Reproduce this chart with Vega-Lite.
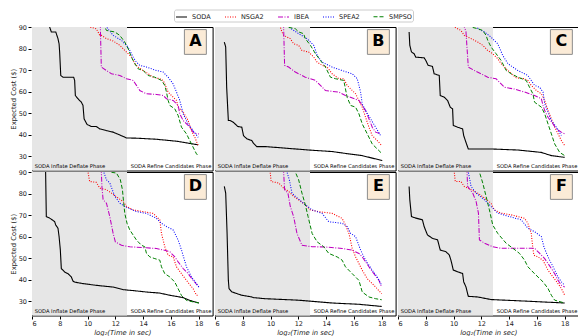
{
"$schema": "https://vega.github.io/schema/vega-lite/v6.json",
"padding": {"left": 10, "top": 9, "right": 0, "bottom": 0},
"background": "white",
"config": {
 "font": "DejaVu Sans",
 "view": {"stroke": "black", "strokeWidth": 1},
 "header": {"labels": false, "title": null, "labelFontSize": 0, "labelPadding": 0, "titlePadding": 0},
 "headerFacet": {"labels": false, "title": null},
 "axis": {"grid": false, "domain": false, "tickColor": "black", "tickSize": 3, "tickCount": 12, "labelFontSize": 6.5, "labelColor": "#222", "labelOverlap": false, "titleFontSize": 6.8, "titleFontWeight": "normal", "titleColor": "#222", "labelPadding": 1.5, "titlePadding": 2}
},
"data": {"values": [
{"p":"A","L":"A"},{"p":"B","L":"B"},{"p":"C","L":"C"},{"p":"D","L":"D"},{"p":"E","L":"E"},{"p":"F","L":"F"},
{"p":"A","s":"SODA","x":7.25,"y":92},{"p":"A","s":"SODA","x":7.27,"y":90},{"p":"A","s":"SODA","x":7.39,"y":87.7},{"p":"A","s":"SODA","x":7.71,"y":87.7},{"p":"A","s":"SODA","x":7.87,"y":84.6},{"p":"A","s":"SODA","x":7.95,"y":82.2},{"p":"A","s":"SODA","x":7.99,"y":78.4},{"p":"A","s":"SODA","x":8.07,"y":67.5},{"p":"A","s":"SODA","x":8.23,"y":66.7},{"p":"A","s":"SODA","x":9.0,"y":66.7},{"p":"A","s":"SODA","x":9.07,"y":65.2},{"p":"A","s":"SODA","x":9.12,"y":58.2},{"p":"A","s":"SODA","x":9.31,"y":56.7},{"p":"A","s":"SODA","x":9.55,"y":55.1},{"p":"A","s":"SODA","x":9.67,"y":53.6},{"p":"A","s":"SODA","x":9.75,"y":47.4},{"p":"A","s":"SODA","x":9.96,"y":44.8},{"p":"A","s":"SODA","x":10.27,"y":43.8},{"p":"A","s":"SODA","x":10.63,"y":43.8},{"p":"A","s":"SODA","x":10.88,"y":42.7},{"p":"A","s":"SODA","x":11.36,"y":41.9},{"p":"A","s":"SODA","x":11.84,"y":41.2},{"p":"A","s":"SODA","x":12.32,"y":39.9},{"p":"A","s":"SODA","x":12.8,"y":38.5},{"p":"A","s":"SODA","x":13.52,"y":38.4},{"p":"A","s":"SODA","x":14.96,"y":37.9},{"p":"A","s":"SODA","x":16.4,"y":37.0},{"p":"A","s":"SODA","x":16.88,"y":36.5},{"p":"A","s":"SODA","x":17.96,"y":35.3},
{"p":"A","s":"NSGA2","x":10.15,"y":92},{"p":"A","s":"NSGA2","x":10.15,"y":90},{"p":"A","s":"NSGA2","x":10.63,"y":89.2},{"p":"A","s":"NSGA2","x":10.88,"y":86.1},{"p":"A","s":"NSGA2","x":11.0,"y":86.1},{"p":"A","s":"NSGA2","x":11.36,"y":84.6},{"p":"A","s":"NSGA2","x":11.84,"y":83.5},{"p":"A","s":"NSGA2","x":12.32,"y":81.5},{"p":"A","s":"NSGA2","x":12.68,"y":79.1},{"p":"A","s":"NSGA2","x":12.92,"y":77.6},{"p":"A","s":"NSGA2","x":13.16,"y":76.0},{"p":"A","s":"NSGA2","x":13.28,"y":74.5},{"p":"A","s":"NSGA2","x":13.4,"y":73.0},{"p":"A","s":"NSGA2","x":13.64,"y":71.4},{"p":"A","s":"NSGA2","x":14.0,"y":69.8},{"p":"A","s":"NSGA2","x":14.36,"y":68.3},{"p":"A","s":"NSGA2","x":14.72,"y":66.7},{"p":"A","s":"NSGA2","x":15.2,"y":66.0},{"p":"A","s":"NSGA2","x":15.44,"y":65.2},{"p":"A","s":"NSGA2","x":15.56,"y":63.6},{"p":"A","s":"NSGA2","x":15.8,"y":59.8},{"p":"A","s":"NSGA2","x":16.04,"y":58.2},{"p":"A","s":"NSGA2","x":16.4,"y":55.9},{"p":"A","s":"NSGA2","x":16.52,"y":52.8},{"p":"A","s":"NSGA2","x":16.88,"y":50.5},{"p":"A","s":"NSGA2","x":17.24,"y":46.6},{"p":"A","s":"NSGA2","x":17.48,"y":41.9},{"p":"A","s":"NSGA2","x":17.72,"y":38.8},{"p":"A","s":"NSGA2","x":17.96,"y":35.0},
{"p":"A","s":"IBEA","x":10.92,"y":92},{"p":"A","s":"IBEA","x":10.92,"y":90},{"p":"A","s":"IBEA","x":10.99,"y":71.4},{"p":"A","s":"IBEA","x":11.36,"y":69.8},{"p":"A","s":"IBEA","x":11.72,"y":68.3},{"p":"A","s":"IBEA","x":12.32,"y":67.5},{"p":"A","s":"IBEA","x":12.8,"y":66.0},{"p":"A","s":"IBEA","x":13.28,"y":65.2},{"p":"A","s":"IBEA","x":13.52,"y":62.9},{"p":"A","s":"IBEA","x":13.76,"y":60.5},{"p":"A","s":"IBEA","x":14.24,"y":59.0},{"p":"A","s":"IBEA","x":14.96,"y":58.7},{"p":"A","s":"IBEA","x":15.44,"y":58.2},{"p":"A","s":"IBEA","x":15.68,"y":56.7},{"p":"A","s":"IBEA","x":16.16,"y":55.9},{"p":"A","s":"IBEA","x":16.52,"y":53.6},{"p":"A","s":"IBEA","x":16.64,"y":49.7},{"p":"A","s":"IBEA","x":16.88,"y":46.6},{"p":"A","s":"IBEA","x":17.36,"y":43.5},{"p":"A","s":"IBEA","x":17.6,"y":41.2},{"p":"A","s":"IBEA","x":17.84,"y":40.4},{"p":"A","s":"IBEA","x":18.01,"y":40.4},
{"p":"A","s":"SPEA2","x":11.36,"y":92},{"p":"A","s":"SPEA2","x":11.36,"y":90},{"p":"A","s":"SPEA2","x":11.84,"y":86.1},{"p":"A","s":"SPEA2","x":12.44,"y":83.8},{"p":"A","s":"SPEA2","x":12.92,"y":80.7},{"p":"A","s":"SPEA2","x":13.28,"y":76.0},{"p":"A","s":"SPEA2","x":13.52,"y":73.7},{"p":"A","s":"SPEA2","x":13.76,"y":72.2},{"p":"A","s":"SPEA2","x":14.24,"y":71.4},{"p":"A","s":"SPEA2","x":14.96,"y":69.8},{"p":"A","s":"SPEA2","x":15.44,"y":69.1},{"p":"A","s":"SPEA2","x":15.8,"y":66.7},{"p":"A","s":"SPEA2","x":16.16,"y":63.6},{"p":"A","s":"SPEA2","x":16.4,"y":59.8},{"p":"A","s":"SPEA2","x":16.64,"y":55.9},{"p":"A","s":"SPEA2","x":16.88,"y":49.7},{"p":"A","s":"SPEA2","x":17.24,"y":45.0},{"p":"A","s":"SPEA2","x":17.6,"y":41.9},{"p":"A","s":"SPEA2","x":17.96,"y":38.8},
{"p":"A","s":"SMPSO","x":11.24,"y":92},{"p":"A","s":"SMPSO","x":11.24,"y":90},{"p":"A","s":"SMPSO","x":11.36,"y":88.4},{"p":"A","s":"SMPSO","x":11.96,"y":87.7},{"p":"A","s":"SMPSO","x":12.32,"y":86.1},{"p":"A","s":"SMPSO","x":12.68,"y":83.0},{"p":"A","s":"SMPSO","x":12.92,"y":79.9},{"p":"A","s":"SMPSO","x":13.16,"y":76.0},{"p":"A","s":"SMPSO","x":13.4,"y":73.0},{"p":"A","s":"SMPSO","x":13.64,"y":70.6},{"p":"A","s":"SMPSO","x":14.0,"y":69.8},{"p":"A","s":"SMPSO","x":14.36,"y":67.5},{"p":"A","s":"SMPSO","x":14.84,"y":66.7},{"p":"A","s":"SMPSO","x":15.32,"y":65.2},{"p":"A","s":"SMPSO","x":15.56,"y":62.9},{"p":"A","s":"SMPSO","x":15.68,"y":59.8},{"p":"A","s":"SMPSO","x":15.8,"y":55.9},{"p":"A","s":"SMPSO","x":15.92,"y":53.6},{"p":"A","s":"SMPSO","x":16.28,"y":52.0},{"p":"A","s":"SMPSO","x":16.52,"y":48.9},{"p":"A","s":"SMPSO","x":16.76,"y":43.5},{"p":"A","s":"SMPSO","x":17.12,"y":40.4},{"p":"A","s":"SMPSO","x":17.48,"y":35.7},{"p":"A","s":"SMPSO","x":17.84,"y":31.1},{"p":"A","s":"SMPSO","x":17.96,"y":30.3},
{"p":"B","s":"SODA","x":6.67,"y":83.0},{"p":"B","s":"SODA","x":6.77,"y":80.7},{"p":"B","s":"SODA","x":6.84,"y":62.0},{"p":"B","s":"SODA","x":6.96,"y":46.6},{"p":"B","s":"SODA","x":7.08,"y":46.6},{"p":"B","s":"SODA","x":7.32,"y":45.8},{"p":"B","s":"SODA","x":7.64,"y":43.8},{"p":"B","s":"SODA","x":7.93,"y":43.5},{"p":"B","s":"SODA","x":8.05,"y":39.6},{"p":"B","s":"SODA","x":8.29,"y":38.1},{"p":"B","s":"SODA","x":8.65,"y":37.3},{"p":"B","s":"SODA","x":8.77,"y":36.0},{"p":"B","s":"SODA","x":9.01,"y":34.5},{"p":"B","s":"SODA","x":9.61,"y":34.5},{"p":"B","s":"SODA","x":10.82,"y":33.9},{"p":"B","s":"SODA","x":12.75,"y":32.9},{"p":"B","s":"SODA","x":14.43,"y":32.2},{"p":"B","s":"SODA","x":15.64,"y":31.1},{"p":"B","s":"SODA","x":16.6,"y":30.3},{"p":"B","s":"SODA","x":18.04,"y":28.0},
{"p":"B","s":"NSGA2","x":10.7,"y":92},{"p":"B","s":"NSGA2","x":10.7,"y":90},{"p":"B","s":"NSGA2","x":10.82,"y":87.7},{"p":"B","s":"NSGA2","x":10.94,"y":86.1},{"p":"B","s":"NSGA2","x":11.42,"y":84.6},{"p":"B","s":"NSGA2","x":11.66,"y":82.2},{"p":"B","s":"NSGA2","x":12.02,"y":81.5},{"p":"B","s":"NSGA2","x":12.26,"y":79.1},{"p":"B","s":"NSGA2","x":12.74,"y":78.4},{"p":"B","s":"NSGA2","x":13.11,"y":76.0},{"p":"B","s":"NSGA2","x":13.35,"y":73.7},{"p":"B","s":"NSGA2","x":13.71,"y":72.2},{"p":"B","s":"NSGA2","x":14.07,"y":71.4},{"p":"B","s":"NSGA2","x":14.43,"y":68.3},{"p":"B","s":"NSGA2","x":14.91,"y":66.0},{"p":"B","s":"NSGA2","x":15.27,"y":66.0},{"p":"B","s":"NSGA2","x":15.51,"y":62.9},{"p":"B","s":"NSGA2","x":15.76,"y":61.3},{"p":"B","s":"NSGA2","x":16.12,"y":59.0},{"p":"B","s":"NSGA2","x":16.36,"y":55.9},{"p":"B","s":"NSGA2","x":16.6,"y":52.8},{"p":"B","s":"NSGA2","x":16.84,"y":48.1},{"p":"B","s":"NSGA2","x":17.08,"y":43.5},{"p":"B","s":"NSGA2","x":17.32,"y":39.6},{"p":"B","s":"NSGA2","x":17.68,"y":37.3},{"p":"B","s":"NSGA2","x":18.0,"y":35.0},
{"p":"B","s":"IBEA","x":10.94,"y":92},{"p":"B","s":"IBEA","x":10.94,"y":90},{"p":"B","s":"IBEA","x":11.01,"y":72.2},{"p":"B","s":"IBEA","x":11.3,"y":71.4},{"p":"B","s":"IBEA","x":11.78,"y":69.1},{"p":"B","s":"IBEA","x":12.5,"y":66.7},{"p":"B","s":"IBEA","x":13.23,"y":65.2},{"p":"B","s":"IBEA","x":13.59,"y":62.9},{"p":"B","s":"IBEA","x":13.95,"y":60.5},{"p":"B","s":"IBEA","x":14.91,"y":59.8},{"p":"B","s":"IBEA","x":15.39,"y":58.2},{"p":"B","s":"IBEA","x":16.36,"y":55.9},{"p":"B","s":"IBEA","x":16.6,"y":53.6},{"p":"B","s":"IBEA","x":16.84,"y":51.2},{"p":"B","s":"IBEA","x":17.08,"y":47.4},{"p":"B","s":"IBEA","x":17.32,"y":43.5},{"p":"B","s":"IBEA","x":17.56,"y":41.2},{"p":"B","s":"IBEA","x":17.92,"y":40.4},
{"p":"B","s":"SPEA2","x":11.3,"y":92},{"p":"B","s":"SPEA2","x":11.3,"y":90},{"p":"B","s":"SPEA2","x":12.02,"y":86.9},{"p":"B","s":"SPEA2","x":12.62,"y":84.6},{"p":"B","s":"SPEA2","x":13.11,"y":81.5},{"p":"B","s":"SPEA2","x":13.35,"y":76.8},{"p":"B","s":"SPEA2","x":13.71,"y":73.7},{"p":"B","s":"SPEA2","x":14.43,"y":71.4},{"p":"B","s":"SPEA2","x":15.15,"y":69.8},{"p":"B","s":"SPEA2","x":15.88,"y":68.3},{"p":"B","s":"SPEA2","x":16.24,"y":66.0},{"p":"B","s":"SPEA2","x":16.48,"y":59.8},{"p":"B","s":"SPEA2","x":16.6,"y":54.3},{"p":"B","s":"SPEA2","x":16.84,"y":51.2},{"p":"B","s":"SPEA2","x":17.2,"y":47.4},{"p":"B","s":"SPEA2","x":17.56,"y":43.5},{"p":"B","s":"SPEA2","x":17.92,"y":39.6},
{"p":"B","s":"SMPSO","x":11.18,"y":92},{"p":"B","s":"SMPSO","x":11.18,"y":90},{"p":"B","s":"SMPSO","x":11.78,"y":89.2},{"p":"B","s":"SMPSO","x":12.02,"y":87.7},{"p":"B","s":"SMPSO","x":12.38,"y":86.9},{"p":"B","s":"SMPSO","x":12.5,"y":84.6},{"p":"B","s":"SMPSO","x":12.87,"y":81.5},{"p":"B","s":"SMPSO","x":13.23,"y":77.6},{"p":"B","s":"SMPSO","x":13.59,"y":74.5},{"p":"B","s":"SMPSO","x":13.95,"y":71.4},{"p":"B","s":"SMPSO","x":14.31,"y":66.7},{"p":"B","s":"SMPSO","x":14.67,"y":66.0},{"p":"B","s":"SMPSO","x":15.27,"y":65.2},{"p":"B","s":"SMPSO","x":15.51,"y":57.4},{"p":"B","s":"SMPSO","x":15.76,"y":53.6},{"p":"B","s":"SMPSO","x":16.12,"y":52.8},{"p":"B","s":"SMPSO","x":16.36,"y":49.7},{"p":"B","s":"SMPSO","x":16.6,"y":45.0},{"p":"B","s":"SMPSO","x":16.96,"y":40.4},{"p":"B","s":"SMPSO","x":17.32,"y":35.7},{"p":"B","s":"SMPSO","x":17.68,"y":33.4},{"p":"B","s":"SMPSO","x":18.04,"y":31.1},
{"p":"C","s":"SODA","x":6.8,"y":87.7},{"p":"C","s":"SODA","x":6.85,"y":81.5},{"p":"C","s":"SODA","x":6.97,"y":78.4},{"p":"C","s":"SODA","x":7.16,"y":77.6},{"p":"C","s":"SODA","x":7.28,"y":76.0},{"p":"C","s":"SODA","x":7.88,"y":75.7},{"p":"C","s":"SODA","x":8.0,"y":74.5},{"p":"C","s":"SODA","x":8.17,"y":72.2},{"p":"C","s":"SODA","x":8.48,"y":71.7},{"p":"C","s":"SODA","x":8.6,"y":68.3},{"p":"C","s":"SODA","x":8.97,"y":67.5},{"p":"C","s":"SODA","x":9.04,"y":58.2},{"p":"C","s":"SODA","x":9.33,"y":57.4},{"p":"C","s":"SODA","x":9.57,"y":55.9},{"p":"C","s":"SODA","x":9.76,"y":52.8},{"p":"C","s":"SODA","x":9.93,"y":52.0},{"p":"C","s":"SODA","x":9.98,"y":44.3},{"p":"C","s":"SODA","x":10.29,"y":43.5},{"p":"C","s":"SODA","x":10.65,"y":42.7},{"p":"C","s":"SODA","x":10.73,"y":39.6},{"p":"C","s":"SODA","x":10.89,"y":36.5},{"p":"C","s":"SODA","x":11.06,"y":33.4},{"p":"C","s":"SODA","x":12.7,"y":33.4},{"p":"C","s":"SODA","x":14.63,"y":32.9},{"p":"C","s":"SODA","x":16.31,"y":31.8},{"p":"C","s":"SODA","x":17.04,"y":30.3},{"p":"C","s":"SODA","x":18.0,"y":29.5},
{"p":"C","s":"NSGA2","x":10.05,"y":92},{"p":"C","s":"NSGA2","x":10.05,"y":90},{"p":"C","s":"NSGA2","x":10.29,"y":89.2},{"p":"C","s":"NSGA2","x":10.53,"y":88.4},{"p":"C","s":"NSGA2","x":10.77,"y":86.1},{"p":"C","s":"NSGA2","x":11.26,"y":84.6},{"p":"C","s":"NSGA2","x":11.74,"y":83.0},{"p":"C","s":"NSGA2","x":12.1,"y":81.5},{"p":"C","s":"NSGA2","x":12.46,"y":79.1},{"p":"C","s":"NSGA2","x":12.82,"y":77.6},{"p":"C","s":"NSGA2","x":13.18,"y":75.3},{"p":"C","s":"NSGA2","x":13.42,"y":73.0},{"p":"C","s":"NSGA2","x":13.79,"y":70.6},{"p":"C","s":"NSGA2","x":14.15,"y":68.3},{"p":"C","s":"NSGA2","x":14.51,"y":66.4},{"p":"C","s":"NSGA2","x":15.11,"y":66.0},{"p":"C","s":"NSGA2","x":15.35,"y":65.2},{"p":"C","s":"NSGA2","x":15.59,"y":62.9},{"p":"C","s":"NSGA2","x":15.96,"y":60.5},{"p":"C","s":"NSGA2","x":16.32,"y":59.0},{"p":"C","s":"NSGA2","x":16.56,"y":55.9},{"p":"C","s":"NSGA2","x":16.8,"y":51.2},{"p":"C","s":"NSGA2","x":17.04,"y":47.4},{"p":"C","s":"NSGA2","x":17.28,"y":43.5},{"p":"C","s":"NSGA2","x":17.52,"y":40.4},{"p":"C","s":"NSGA2","x":17.76,"y":37.3},{"p":"C","s":"NSGA2","x":18.0,"y":35.0},
{"p":"C","s":"IBEA","x":10.77,"y":92},{"p":"C","s":"IBEA","x":10.77,"y":90},{"p":"C","s":"IBEA","x":10.89,"y":88},{"p":"C","s":"IBEA","x":11.06,"y":71.4},{"p":"C","s":"IBEA","x":11.5,"y":69.8},{"p":"C","s":"IBEA","x":11.98,"y":68.3},{"p":"C","s":"IBEA","x":12.46,"y":66.7},{"p":"C","s":"IBEA","x":13.06,"y":66.0},{"p":"C","s":"IBEA","x":13.3,"y":64.4},{"p":"C","s":"IBEA","x":13.66,"y":62.0},{"p":"C","s":"IBEA","x":14.39,"y":61.2},{"p":"C","s":"IBEA","x":15.11,"y":59.8},{"p":"C","s":"IBEA","x":15.83,"y":58.2},{"p":"C","s":"IBEA","x":16.32,"y":56.7},{"p":"C","s":"IBEA","x":16.44,"y":53.6},{"p":"C","s":"IBEA","x":16.56,"y":51.2},{"p":"C","s":"IBEA","x":16.8,"y":48.1},{"p":"C","s":"IBEA","x":17.16,"y":45.0},{"p":"C","s":"IBEA","x":17.4,"y":42.7},{"p":"C","s":"IBEA","x":17.76,"y":41.2},{"p":"C","s":"IBEA","x":18.0,"y":40.4},
{"p":"C","s":"SPEA2","x":11.74,"y":92},{"p":"C","s":"SPEA2","x":11.74,"y":89.2},{"p":"C","s":"SPEA2","x":12.22,"y":87.7},{"p":"C","s":"SPEA2","x":12.7,"y":85.3},{"p":"C","s":"SPEA2","x":13.18,"y":82.2},{"p":"C","s":"SPEA2","x":13.54,"y":76.8},{"p":"C","s":"SPEA2","x":13.91,"y":73.0},{"p":"C","s":"SPEA2","x":14.63,"y":69.8},{"p":"C","s":"SPEA2","x":15.35,"y":67.5},{"p":"C","s":"SPEA2","x":15.59,"y":65.2},{"p":"C","s":"SPEA2","x":15.83,"y":62.9},{"p":"C","s":"SPEA2","x":16.2,"y":62.0},{"p":"C","s":"SPEA2","x":16.44,"y":59.8},{"p":"C","s":"SPEA2","x":16.56,"y":54.3},{"p":"C","s":"SPEA2","x":16.8,"y":50.5},{"p":"C","s":"SPEA2","x":17.04,"y":46.6},{"p":"C","s":"SPEA2","x":17.4,"y":43.5},{"p":"C","s":"SPEA2","x":17.76,"y":39.6},
{"p":"C","s":"SMPSO","x":11.26,"y":92},{"p":"C","s":"SMPSO","x":11.26,"y":90},{"p":"C","s":"SMPSO","x":11.74,"y":89.2},{"p":"C","s":"SMPSO","x":12.1,"y":88.4},{"p":"C","s":"SMPSO","x":12.34,"y":86.1},{"p":"C","s":"SMPSO","x":12.46,"y":83.8},{"p":"C","s":"SMPSO","x":12.7,"y":80.7},{"p":"C","s":"SMPSO","x":13.06,"y":77.6},{"p":"C","s":"SMPSO","x":13.42,"y":74.5},{"p":"C","s":"SMPSO","x":13.79,"y":69.8},{"p":"C","s":"SMPSO","x":14.15,"y":68.3},{"p":"C","s":"SMPSO","x":14.63,"y":66.7},{"p":"C","s":"SMPSO","x":15.23,"y":65.2},{"p":"C","s":"SMPSO","x":15.47,"y":62.0},{"p":"C","s":"SMPSO","x":15.71,"y":59.0},{"p":"C","s":"SMPSO","x":15.83,"y":55.1},{"p":"C","s":"SMPSO","x":16.32,"y":52.8},{"p":"C","s":"SMPSO","x":16.56,"y":49.7},{"p":"C","s":"SMPSO","x":16.8,"y":45.0},{"p":"C","s":"SMPSO","x":17.04,"y":40.4},{"p":"C","s":"SMPSO","x":17.28,"y":35.7},{"p":"C","s":"SMPSO","x":17.64,"y":31.8},{"p":"C","s":"SMPSO","x":18.0,"y":30.3},
{"p":"D","s":"SODA","x":6.98,"y":92},{"p":"D","s":"SODA","x":6.98,"y":90},{"p":"D","s":"SODA","x":7.03,"y":69.3},{"p":"D","s":"SODA","x":7.27,"y":68.6},{"p":"D","s":"SODA","x":7.63,"y":67.0},{"p":"D","s":"SODA","x":7.71,"y":65.4},{"p":"D","s":"SODA","x":7.87,"y":63.9},{"p":"D","s":"SODA","x":7.95,"y":60.0},{"p":"D","s":"SODA","x":8.04,"y":53.8},{"p":"D","s":"SODA","x":8.11,"y":45.2},{"p":"D","s":"SODA","x":8.35,"y":43.6},{"p":"D","s":"SODA","x":8.59,"y":42.8},{"p":"D","s":"SODA","x":8.83,"y":41.3},{"p":"D","s":"SODA","x":8.95,"y":39.4},{"p":"D","s":"SODA","x":9.07,"y":38.9},{"p":"D","s":"SODA","x":9.67,"y":38.2},{"p":"D","s":"SODA","x":10.63,"y":37.4},{"p":"D","s":"SODA","x":11.84,"y":36.6},{"p":"D","s":"SODA","x":12.56,"y":35.4},{"p":"D","s":"SODA","x":13.52,"y":34.8},{"p":"D","s":"SODA","x":14.24,"y":34.3},{"p":"D","s":"SODA","x":15.2,"y":33.8},{"p":"D","s":"SODA","x":15.92,"y":32.8},{"p":"D","s":"SODA","x":16.88,"y":31.7},{"p":"D","s":"SODA","x":17.36,"y":30.4},{"p":"D","s":"SODA","x":18.01,"y":29.2},
{"p":"D","s":"NSGA2","x":10.03,"y":92},{"p":"D","s":"NSGA2","x":10.03,"y":90},{"p":"D","s":"NSGA2","x":10.15,"y":85.6},{"p":"D","s":"NSGA2","x":10.63,"y":85.2},{"p":"D","s":"NSGA2","x":10.88,"y":82.5},{"p":"D","s":"NSGA2","x":11.36,"y":81.8},{"p":"D","s":"NSGA2","x":11.72,"y":80.2},{"p":"D","s":"NSGA2","x":12.2,"y":77.9},{"p":"D","s":"NSGA2","x":12.56,"y":76.3},{"p":"D","s":"NSGA2","x":12.8,"y":74.0},{"p":"D","s":"NSGA2","x":13.28,"y":72.4},{"p":"D","s":"NSGA2","x":14.0,"y":71.6},{"p":"D","s":"NSGA2","x":14.72,"y":70.8},{"p":"D","s":"NSGA2","x":14.96,"y":69.3},{"p":"D","s":"NSGA2","x":15.2,"y":67.8},{"p":"D","s":"NSGA2","x":15.32,"y":61.5},{"p":"D","s":"NSGA2","x":15.56,"y":55.3},{"p":"D","s":"NSGA2","x":15.8,"y":51.4},{"p":"D","s":"NSGA2","x":16.16,"y":50.6},{"p":"D","s":"NSGA2","x":16.4,"y":46.0},{"p":"D","s":"NSGA2","x":16.76,"y":42.8},{"p":"D","s":"NSGA2","x":17.12,"y":39.7},{"p":"D","s":"NSGA2","x":17.6,"y":35.8},{"p":"D","s":"NSGA2","x":17.84,"y":32.8},{"p":"D","s":"NSGA2","x":18.01,"y":32.8},
{"p":"D","s":"IBEA","x":10.99,"y":92},{"p":"D","s":"IBEA","x":10.99,"y":90},{"p":"D","s":"IBEA","x":11.04,"y":82.5},{"p":"D","s":"IBEA","x":11.12,"y":77.1},{"p":"D","s":"IBEA","x":11.36,"y":75.5},{"p":"D","s":"IBEA","x":11.6,"y":69.3},{"p":"D","s":"IBEA","x":11.84,"y":61.5},{"p":"D","s":"IBEA","x":12.0,"y":57.6},{"p":"D","s":"IBEA","x":12.44,"y":56.0},{"p":"D","s":"IBEA","x":13.04,"y":55.3},{"p":"D","s":"IBEA","x":14.24,"y":54.8},{"p":"D","s":"IBEA","x":14.96,"y":54.5},{"p":"D","s":"IBEA","x":15.44,"y":53.8},{"p":"D","s":"IBEA","x":15.92,"y":53.0},{"p":"D","s":"IBEA","x":16.28,"y":50.6},{"p":"D","s":"IBEA","x":16.52,"y":48.3},{"p":"D","s":"IBEA","x":16.88,"y":45.2},{"p":"D","s":"IBEA","x":17.24,"y":42.8},{"p":"D","s":"IBEA","x":17.6,"y":39.7},{"p":"D","s":"IBEA","x":18.01,"y":36.6},
{"p":"D","s":"SPEA2","x":11.16,"y":92},{"p":"D","s":"SPEA2","x":11.16,"y":90},{"p":"D","s":"SPEA2","x":11.36,"y":86.4},{"p":"D","s":"SPEA2","x":11.6,"y":84.9},{"p":"D","s":"SPEA2","x":11.96,"y":78.7},{"p":"D","s":"SPEA2","x":12.32,"y":75.5},{"p":"D","s":"SPEA2","x":12.68,"y":74.0},{"p":"D","s":"SPEA2","x":13.52,"y":71.6},{"p":"D","s":"SPEA2","x":14.24,"y":70.8},{"p":"D","s":"SPEA2","x":14.96,"y":68.5},{"p":"D","s":"SPEA2","x":15.32,"y":66.2},{"p":"D","s":"SPEA2","x":15.68,"y":64.7},{"p":"D","s":"SPEA2","x":16.16,"y":63.1},{"p":"D","s":"SPEA2","x":16.52,"y":58.4},{"p":"D","s":"SPEA2","x":16.76,"y":53.8},{"p":"D","s":"SPEA2","x":17.12,"y":46.0},{"p":"D","s":"SPEA2","x":17.48,"y":41.3},{"p":"D","s":"SPEA2","x":17.84,"y":38.2},{"p":"D","s":"SPEA2","x":18.01,"y":36.6},
{"p":"D","s":"SMPSO","x":11.6,"y":92},{"p":"D","s":"SMPSO","x":11.6,"y":90},{"p":"D","s":"SMPSO","x":12.08,"y":89.5},{"p":"D","s":"SMPSO","x":12.36,"y":86.4},{"p":"D","s":"SMPSO","x":12.51,"y":81.8},{"p":"D","s":"SMPSO","x":12.6,"y":75.5},{"p":"D","s":"SMPSO","x":12.68,"y":70.8},{"p":"D","s":"SMPSO","x":12.84,"y":66.2},{"p":"D","s":"SMPSO","x":13.04,"y":63.1},{"p":"D","s":"SMPSO","x":13.52,"y":58.4},{"p":"D","s":"SMPSO","x":13.88,"y":56.0},{"p":"D","s":"SMPSO","x":14.12,"y":55.3},{"p":"D","s":"SMPSO","x":14.24,"y":52.2},{"p":"D","s":"SMPSO","x":14.48,"y":50.6},{"p":"D","s":"SMPSO","x":14.84,"y":49.8},{"p":"D","s":"SMPSO","x":15.2,"y":49.1},{"p":"D","s":"SMPSO","x":15.32,"y":46.0},{"p":"D","s":"SMPSO","x":15.56,"y":42.8},{"p":"D","s":"SMPSO","x":15.92,"y":41.3},{"p":"D","s":"SMPSO","x":16.28,"y":38.9},{"p":"D","s":"SMPSO","x":16.52,"y":35.8},{"p":"D","s":"SMPSO","x":16.76,"y":32.7},{"p":"D","s":"SMPSO","x":17.12,"y":30.4},{"p":"D","s":"SMPSO","x":17.6,"y":29.7},{"p":"D","s":"SMPSO","x":18.01,"y":29.2},
{"p":"E","s":"SODA","x":6.67,"y":83.3},{"p":"E","s":"SODA","x":6.77,"y":80.2},{"p":"E","s":"SODA","x":6.87,"y":61.5},{"p":"E","s":"SODA","x":6.96,"y":39.8},{"p":"E","s":"SODA","x":7.01,"y":35.9},{"p":"E","s":"SODA","x":7.2,"y":34.4},{"p":"E","s":"SODA","x":7.56,"y":33.6},{"p":"E","s":"SODA","x":7.93,"y":32.8},{"p":"E","s":"SODA","x":8.65,"y":32.0},{"p":"E","s":"SODA","x":8.77,"y":31.7},{"p":"E","s":"SODA","x":9.61,"y":31.2},{"p":"E","s":"SODA","x":12.02,"y":30.5},{"p":"E","s":"SODA","x":14.43,"y":29.2},{"p":"E","s":"SODA","x":16.36,"y":28.6},{"p":"E","s":"SODA","x":18.0,"y":27.6},
{"p":"E","s":"NSGA2","x":9.97,"y":92},{"p":"E","s":"NSGA2","x":9.97,"y":90},{"p":"E","s":"NSGA2","x":10.04,"y":85.6},{"p":"E","s":"NSGA2","x":10.58,"y":84.9},{"p":"E","s":"NSGA2","x":10.94,"y":82.5},{"p":"E","s":"NSGA2","x":11.3,"y":81.0},{"p":"E","s":"NSGA2","x":11.66,"y":78.7},{"p":"E","s":"NSGA2","x":12.02,"y":77.1},{"p":"E","s":"NSGA2","x":12.5,"y":74.8},{"p":"E","s":"NSGA2","x":12.87,"y":72.4},{"p":"E","s":"NSGA2","x":13.47,"y":71.6},{"p":"E","s":"NSGA2","x":14.43,"y":70.8},{"p":"E","s":"NSGA2","x":15.15,"y":68.5},{"p":"E","s":"NSGA2","x":15.39,"y":65.4},{"p":"E","s":"NSGA2","x":15.64,"y":61.5},{"p":"E","s":"NSGA2","x":15.88,"y":54.5},{"p":"E","s":"NSGA2","x":16.12,"y":50.6},{"p":"E","s":"NSGA2","x":16.36,"y":47.5},{"p":"E","s":"NSGA2","x":16.6,"y":44.4},{"p":"E","s":"NSGA2","x":16.96,"y":40.5},{"p":"E","s":"NSGA2","x":17.32,"y":38.2},{"p":"E","s":"NSGA2","x":17.56,"y":36.6},{"p":"E","s":"NSGA2","x":18.0,"y":33.5},
{"p":"E","s":"IBEA","x":10.94,"y":92},{"p":"E","s":"IBEA","x":10.94,"y":90},{"p":"E","s":"IBEA","x":11.01,"y":81.8},{"p":"E","s":"IBEA","x":11.25,"y":80.2},{"p":"E","s":"IBEA","x":11.42,"y":74.0},{"p":"E","s":"IBEA","x":11.66,"y":69.3},{"p":"E","s":"IBEA","x":11.9,"y":61.5},{"p":"E","s":"IBEA","x":12.26,"y":56.0},{"p":"E","s":"IBEA","x":12.99,"y":55.3},{"p":"E","s":"IBEA","x":13.95,"y":55.2},{"p":"E","s":"IBEA","x":15.15,"y":54.5},{"p":"E","s":"IBEA","x":15.88,"y":53.7},{"p":"E","s":"IBEA","x":16.36,"y":52.2},{"p":"E","s":"IBEA","x":16.6,"y":50.6},{"p":"E","s":"IBEA","x":16.84,"y":48.3},{"p":"E","s":"IBEA","x":17.08,"y":46.0},{"p":"E","s":"IBEA","x":17.44,"y":42.8},{"p":"E","s":"IBEA","x":17.8,"y":39.7},{"p":"E","s":"IBEA","x":18.0,"y":36.6},
{"p":"E","s":"SPEA2","x":11.18,"y":92},{"p":"E","s":"SPEA2","x":11.18,"y":90},{"p":"E","s":"SPEA2","x":11.35,"y":86.4},{"p":"E","s":"SPEA2","x":11.54,"y":80.2},{"p":"E","s":"SPEA2","x":11.78,"y":78.7},{"p":"E","s":"SPEA2","x":12.5,"y":74.8},{"p":"E","s":"SPEA2","x":12.99,"y":72.4},{"p":"E","s":"SPEA2","x":13.71,"y":70.8},{"p":"E","s":"SPEA2","x":14.19,"y":66.9},{"p":"E","s":"SPEA2","x":15.15,"y":66.2},{"p":"E","s":"SPEA2","x":15.51,"y":64.7},{"p":"E","s":"SPEA2","x":15.76,"y":61.5},{"p":"E","s":"SPEA2","x":16.12,"y":60.0},{"p":"E","s":"SPEA2","x":16.48,"y":53.8},{"p":"E","s":"SPEA2","x":16.84,"y":49.1},{"p":"E","s":"SPEA2","x":17.32,"y":44.4},{"p":"E","s":"SPEA2","x":17.68,"y":41.3},{"p":"E","s":"SPEA2","x":18.0,"y":37.4},
{"p":"E","s":"SMPSO","x":11.78,"y":92},{"p":"E","s":"SMPSO","x":11.78,"y":90},{"p":"E","s":"SMPSO","x":12.02,"y":86.4},{"p":"E","s":"SMPSO","x":12.26,"y":80.2},{"p":"E","s":"SMPSO","x":12.5,"y":74.8},{"p":"E","s":"SMPSO","x":12.7,"y":69.3},{"p":"E","s":"SMPSO","x":12.99,"y":61.5},{"p":"E","s":"SMPSO","x":13.35,"y":57.6},{"p":"E","s":"SMPSO","x":13.83,"y":55.3},{"p":"E","s":"SMPSO","x":14.19,"y":52.2},{"p":"E","s":"SMPSO","x":14.79,"y":50.6},{"p":"E","s":"SMPSO","x":15.15,"y":49.1},{"p":"E","s":"SMPSO","x":15.39,"y":46.0},{"p":"E","s":"SMPSO","x":15.88,"y":42.8},{"p":"E","s":"SMPSO","x":16.36,"y":39.7},{"p":"E","s":"SMPSO","x":16.6,"y":34.3},{"p":"E","s":"SMPSO","x":17.08,"y":32.0},{"p":"E","s":"SMPSO","x":17.56,"y":31.2},{"p":"E","s":"SMPSO","x":18.0,"y":30.7},
{"p":"F","s":"SODA","x":6.8,"y":83.3},{"p":"F","s":"SODA","x":6.85,"y":77.1},{"p":"F","s":"SODA","x":6.97,"y":69.3},{"p":"F","s":"SODA","x":7.28,"y":68.6},{"p":"F","s":"SODA","x":7.76,"y":67.8},{"p":"F","s":"SODA","x":7.88,"y":64.7},{"p":"F","s":"SODA","x":8.12,"y":60.8},{"p":"F","s":"SODA","x":8.48,"y":59.2},{"p":"F","s":"SODA","x":8.85,"y":58.5},{"p":"F","s":"SODA","x":9.04,"y":53.8},{"p":"F","s":"SODA","x":9.45,"y":53.0},{"p":"F","s":"SODA","x":9.69,"y":51.5},{"p":"F","s":"SODA","x":9.81,"y":49.1},{"p":"F","s":"SODA","x":9.98,"y":44.5},{"p":"F","s":"SODA","x":10.29,"y":43.7},{"p":"F","s":"SODA","x":10.65,"y":42.9},{"p":"F","s":"SODA","x":10.73,"y":39.0},{"p":"F","s":"SODA","x":10.89,"y":36.7},{"p":"F","s":"SODA","x":11.06,"y":32.3},{"p":"F","s":"SODA","x":11.74,"y":32.0},{"p":"F","s":"SODA","x":12.7,"y":30.8},{"p":"F","s":"SODA","x":15.11,"y":30.1},{"p":"F","s":"SODA","x":18.0,"y":29.2},
{"p":"F","s":"NSGA2","x":10.05,"y":92},{"p":"F","s":"NSGA2","x":10.05,"y":90},{"p":"F","s":"NSGA2","x":10.12,"y":85.6},{"p":"F","s":"NSGA2","x":10.53,"y":85.6},{"p":"F","s":"NSGA2","x":10.77,"y":83.3},{"p":"F","s":"NSGA2","x":11.26,"y":81.8},{"p":"F","s":"NSGA2","x":11.74,"y":80.2},{"p":"F","s":"NSGA2","x":12.22,"y":77.9},{"p":"F","s":"NSGA2","x":12.7,"y":75.5},{"p":"F","s":"NSGA2","x":12.94,"y":72.4},{"p":"F","s":"NSGA2","x":13.42,"y":70.9},{"p":"F","s":"NSGA2","x":14.15,"y":70.1},{"p":"F","s":"NSGA2","x":15.11,"y":68.5},{"p":"F","s":"NSGA2","x":15.35,"y":66.2},{"p":"F","s":"NSGA2","x":15.59,"y":61.5},{"p":"F","s":"NSGA2","x":15.71,"y":54.5},{"p":"F","s":"NSGA2","x":15.78,"y":51.4},{"p":"F","s":"NSGA2","x":16.07,"y":50.6},{"p":"F","s":"NSGA2","x":16.44,"y":49.0},{"p":"F","s":"NSGA2","x":16.8,"y":44.4},{"p":"F","s":"NSGA2","x":17.16,"y":41.3},{"p":"F","s":"NSGA2","x":17.52,"y":38.2},{"p":"F","s":"NSGA2","x":17.76,"y":35.9},{"p":"F","s":"NSGA2","x":18.0,"y":32.8},
{"p":"F","s":"IBEA","x":10.97,"y":92},{"p":"F","s":"IBEA","x":10.97,"y":90},{"p":"F","s":"IBEA","x":11.01,"y":83.3},{"p":"F","s":"IBEA","x":11.38,"y":80.2},{"p":"F","s":"IBEA","x":11.62,"y":76.3},{"p":"F","s":"IBEA","x":11.79,"y":70.9},{"p":"F","s":"IBEA","x":11.86,"y":58.5},{"p":"F","s":"IBEA","x":12.22,"y":57.0},{"p":"F","s":"IBEA","x":12.82,"y":55.3},{"p":"F","s":"IBEA","x":13.42,"y":54.6},{"p":"F","s":"IBEA","x":15.83,"y":54.6},{"p":"F","s":"IBEA","x":16.2,"y":52.2},{"p":"F","s":"IBEA","x":16.56,"y":49.8},{"p":"F","s":"IBEA","x":16.8,"y":47.5},{"p":"F","s":"IBEA","x":17.04,"y":45.2},{"p":"F","s":"IBEA","x":17.28,"y":42.8},{"p":"F","s":"IBEA","x":17.52,"y":39.7},{"p":"F","s":"IBEA","x":17.76,"y":37.4},{"p":"F","s":"IBEA","x":18.0,"y":36.6},
{"p":"F","s":"SPEA2","x":11.06,"y":92},{"p":"F","s":"SPEA2","x":11.06,"y":90},{"p":"F","s":"SPEA2","x":11.26,"y":83.3},{"p":"F","s":"SPEA2","x":11.62,"y":80.2},{"p":"F","s":"SPEA2","x":12.22,"y":77.1},{"p":"F","s":"SPEA2","x":12.7,"y":74.0},{"p":"F","s":"SPEA2","x":13.18,"y":70.9},{"p":"F","s":"SPEA2","x":14.03,"y":69.3},{"p":"F","s":"SPEA2","x":14.87,"y":67.8},{"p":"F","s":"SPEA2","x":15.35,"y":63.9},{"p":"F","s":"SPEA2","x":15.83,"y":62.3},{"p":"F","s":"SPEA2","x":16.32,"y":60.0},{"p":"F","s":"SPEA2","x":16.5,"y":55.3},{"p":"F","s":"SPEA2","x":16.8,"y":50.6},{"p":"F","s":"SPEA2","x":17.16,"y":46.0},{"p":"F","s":"SPEA2","x":17.52,"y":41.3},{"p":"F","s":"SPEA2","x":17.76,"y":39.0},{"p":"F","s":"SPEA2","x":18.0,"y":37.4},
{"p":"F","s":"SMPSO","x":11.86,"y":92},{"p":"F","s":"SMPSO","x":11.86,"y":90},{"p":"F","s":"SMPSO","x":12.1,"y":84.9},{"p":"F","s":"SMPSO","x":12.34,"y":78.7},{"p":"F","s":"SMPSO","x":12.58,"y":72.4},{"p":"F","s":"SMPSO","x":12.82,"y":65.4},{"p":"F","s":"SMPSO","x":13.18,"y":61.5},{"p":"F","s":"SMPSO","x":13.79,"y":56.9},{"p":"F","s":"SMPSO","x":14.27,"y":54.6},{"p":"F","s":"SMPSO","x":14.75,"y":52.2},{"p":"F","s":"SMPSO","x":15.11,"y":49.1},{"p":"F","s":"SMPSO","x":15.35,"y":46.0},{"p":"F","s":"SMPSO","x":15.83,"y":42.8},{"p":"F","s":"SMPSO","x":16.44,"y":39.0},{"p":"F","s":"SMPSO","x":16.8,"y":35.9},{"p":"F","s":"SMPSO","x":17.04,"y":32.8},{"p":"F","s":"SMPSO","x":17.28,"y":30.5},{"p":"F","s":"SMPSO","x":18.0,"y":29.2}
]},
"facet": {"field": "p", "type": "nominal", "title": null, "header": {"labels": false, "title": null, "labelExpr": "''", "labelFontSize": 0, "labelPadding": 0}},
"columns": 3,
"spacing": 0,
"spec": {
 "width": 180.6, "height": 143.5,
 "layer": [
  {"transform": [{"filter": "isValid(datum.L)"}],
   "mark": {"type": "rect", "color": "#e6e6e6"},
   "encoding": {
    "x": {"datum": 6, "type": "quantitative", "scale": {"domain": [6, 19], "nice": false, "zero": false}, "axis": {"values": [6, 8, 10, 12, 14, 16, 18], "tickCount": 12, "labelOverlap": false, "title": "log₂(Time in sec)", "titleFontStyle": "italic"}},
    "x2": {"datum": 12.84},
    "y": {"datum": 23.4, "type": "quantitative", "scale": {"domain": [23.4, 90], "nice": false, "zero": false}, "axis": {"values": [30, 40, 50, 60, 70, 80, 90], "tickCount": 12, "labelOverlap": false, "title": "Expected Cost ($)"}},
    "y2": {"datum": 90}}},
  {"transform": [{"filter": "isValid(datum.L)"}],
   "mark": {"type": "text", "align": "left", "baseline": "middle", "fontSize": 5.2, "color": "black"},
   "encoding": {"x": {"datum": 6.19, "type": "quantitative"}, "y": {"datum": 25.5, "type": "quantitative"}, "text": {"value": "SODA Inflate Deflate Phase"}}},
  {"transform": [{"filter": "isValid(datum.L)"}],
   "mark": {"type": "text", "align": "left", "baseline": "middle", "fontSize": 5.2, "color": "black"},
   "encoding": {"x": {"datum": 13.1, "type": "quantitative"}, "y": {"datum": 25.5, "type": "quantitative"}, "text": {"value": "SODA Refine Candidates Phase"}}},
  {"transform": [{"filter": "isValid(datum.s)"}],
   "mark": {"type": "line", "clip": true},
   "encoding": {
    "x": {"field": "x", "type": "quantitative", "scale": {"domain": [6, 19], "nice": false, "zero": false}, "axis": {"values": [6, 8, 10, 12, 14, 16, 18], "tickCount": 12, "labelOverlap": false, "title": "log₂(Time in sec)", "titleFontStyle": "italic"}},
    "y": {"field": "y", "type": "quantitative", "scale": {"domain": [23.4, 90], "nice": false, "zero": false}, "axis": {"values": [30, 40, 50, 60, 70, 80, 90], "tickCount": 12, "labelOverlap": false, "title": "Expected Cost ($)"}},
    "color": {"field": "s", "type": "nominal", "scale": {"domain": ["SODA", "NSGA2", "IBEA", "SPEA2", "SMPSO"], "range": ["#000000", "#ff0000", "#bf00bf", "#0000ff", "#008000"]},
      "legend": {"orient": "none", "legendX": 142, "legendY": -17.5, "direction": "horizontal", "title": null, "symbolType": "stroke", "symbolSize": 121, "labelFontSize": 6.5, "labelColor": "#222", "strokeColor": "#cccccc", "padding": 1, "cornerRadius": 2, "fillColor": "white", "columnPadding": 11, "labelOffset": 4}},
    "strokeDash": {"field": "s", "type": "nominal", "scale": {"domain": ["SODA", "NSGA2", "IBEA", "SPEA2", "SMPSO"], "range": [[1, 0], [1, 1.5], [5, 1.5, 1, 1.5], [1, 1.5], [4, 2]]}},
    "strokeWidth": {"field": "s", "type": "nominal", "scale": {"domain": ["SODA", "NSGA2", "IBEA", "SPEA2", "SMPSO"], "range": [1.1, 1, 1, 0.9, 1.6]}},
    "order": {"value": null}
   }},
  {"transform": [{"filter": "isValid(datum.L)"}],
   "mark": {"type": "rect", "fill": "#fbebd7", "stroke": "#8c8c8c", "strokeWidth": 1},
   "encoding": {"x": {"datum": 16.97, "type": "quantitative"}, "x2": {"datum": 18.55}, "y": {"datum": 88.8, "type": "quantitative"}, "y2": {"datum": 77.3}}},
  {"transform": [{"filter": "isValid(datum.L)"}],
   "mark": {"type": "text", "align": "center", "baseline": "middle", "fontSize": 16, "fontWeight": "bold", "color": "black"},
   "encoding": {"x": {"datum": 17.76, "type": "quantitative"}, "y": {"datum": 83.3, "type": "quantitative"}, "text": {"field": "L"}}}
 ]
}
}
